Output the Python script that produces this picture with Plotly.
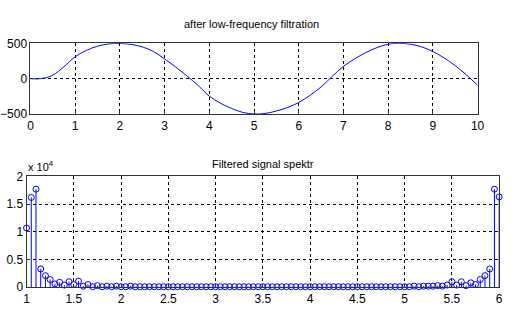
import plotly.graph_objects as go

# Top: filtered signal
t_vals = [0, 0.25, 0.5, 0.75, 1.0, 1.25, 1.5, 1.75, 2.0, 2.25, 2.5, 2.75, 3.0, 3.25, 3.5, 3.75,
          4.0, 4.25, 4.5, 4.75, 5.0, 5.25, 5.5, 5.75, 6.0, 6.25, 6.5, 6.75, 7.0, 7.25, 7.5, 7.75,
          8.0, 8.25, 8.5, 8.75, 9.0, 9.25, 9.5, 9.75, 10.0]
signal_vals = [0, 3, 50, 170, 310, 400, 460, 492, 498, 485, 450, 385, 280, 165, 40, -95,
               -245, -345, -420, -475, -498, -490, -455, -405, -335, -235, -115, 35, 175, 280, 370, 440,
               488, 500, 488, 450, 385, 295, 185, 55, -92]

# Bottom: spectrum (units of 1e4)
freq_vals = [round(1 + 0.05 * i, 2) for i in range(101)]
spec_vals = [1.07, 1.62, 1.77, 0.33, 0.21, 0.14, 0.06, 0.09, 0.04, 0.10,
             0.05, 0.11, 0.02, 0.05, 0.01, 0.03, 0.01, 0.02, 0.01, 0.02,
             0.01, 0.01, 0.02, 0.01, 0.01, 0.01, 0.01, 0.01, 0.01, 0.01,
             0.01, 0.01, 0.01, 0.01, 0.01, 0.01, 0.01, 0.01, 0.01, 0.01,
             0.01, 0.01, 0.01, 0.01, 0.01, 0.01, 0.01, 0.01, 0.01, 0.01,
             0.01, 0.01, 0.01, 0.01, 0.01, 0.01, 0.01, 0.01, 0.01, 0.01,
             0.01, 0.01, 0.01, 0.01, 0.01, 0.01, 0.01, 0.01, 0.01, 0.01,
             0.01, 0.01, 0.01, 0.01, 0.01, 0.01, 0.01, 0.01, 0.01, 0.01,
             0.01, 0.01, 0.02, 0.01, 0.02, 0.02, 0.02, 0.03, 0.02, 0.04,
             0.10, 0.04, 0.10, 0.03, 0.08, 0.05, 0.14, 0.21, 0.33, 1.77,
             1.63]

top_xticks = list(range(0, 11))
top_yticks = [-500, 0, 500]
bot_xticks = [1, 1.5, 2, 2.5, 3, 3.5, 4, 4.5, 5, 5.5, 6]
bot_yticks = [0, 0.5, 1, 1.5, 2]

BLUE = "#0000ff"
FONT = "Liberation Sans"

fig = go.Figure()
fig.add_trace(go.Scatter(x=t_vals, y=signal_vals, mode="lines", line=dict(color=BLUE, width=1, shape="spline"),
                         xaxis="x", yaxis="y", showlegend=False, hoverinfo="skip"))

stem_x, stem_y = [], []
for f, s in zip(freq_vals, spec_vals):
    stem_x += [f, f, None]
    stem_y += [0, s, None]
fig.add_trace(go.Scatter(x=stem_x, y=stem_y, mode="lines", line=dict(color=BLUE, width=1),
                         xaxis="x2", yaxis="y2", showlegend=False, hoverinfo="skip"))
fig.add_trace(go.Scatter(x=freq_vals, y=spec_vals, mode="markers",
                         marker=dict(symbol="circle-open", size=6, color=BLUE, line=dict(width=1, color=BLUE)),
                         xaxis="x2", yaxis="y2", showlegend=False, cliponaxis=False))

ax_common = dict(showline=True, mirror=True, linecolor="#333333", linewidth=1,
                 showgrid=True, gridcolor="#000000", griddash="dot", gridwidth=1,
                 zeroline=False, ticks="inside", ticklen=3, tickcolor="#333333",
                 tickfont=dict(family=FONT, size=12, color="#000000"))

fig.update_layout(
    width=515, height=322, margin=dict(l=0, r=0, t=0, b=0),
    paper_bgcolor="white", plot_bgcolor="white",
    xaxis=dict(domain=[0.0544, 0.9398], anchor="y", range=[0, 10], tickvals=top_xticks, **ax_common),
    yaxis=dict(domain=[0.652, 0.882], anchor="x", range=[-500, 500], tickvals=top_yticks, **ax_common),
    xaxis2=dict(domain=[0.0466, 0.9825], anchor="y2", range=[1, 6], tickvals=bot_xticks,
                ticktext=[str(v) for v in bot_xticks], **ax_common),
    yaxis2=dict(domain=[0.090, 0.450], anchor="x2", range=[0, 2], tickvals=bot_yticks,
                ticktext=["0", "0.5", "1", "1.5", "2"], **ax_common),
    annotations=[
        dict(text="after low-frequency filtration", x=0.492, y=0.918, xref="paper", yref="paper",
             xanchor="center", yanchor="bottom", showarrow=False, font=dict(family=FONT, size=11, color="black")),
        dict(text="Filtered signal spektr", x=0.515, y=0.465, xref="paper", yref="paper",
             xanchor="center", yanchor="bottom", showarrow=False, font=dict(family=FONT, size=11, color="black")),
        dict(text="x 10<sup>4</sup>", x=0.046, y=0.455, xref="paper", yref="paper",
             xanchor="left", yanchor="bottom", showarrow=False, font=dict(family=FONT, size=11, color="black")),
    ],
)

fig.write_html("out.html")
